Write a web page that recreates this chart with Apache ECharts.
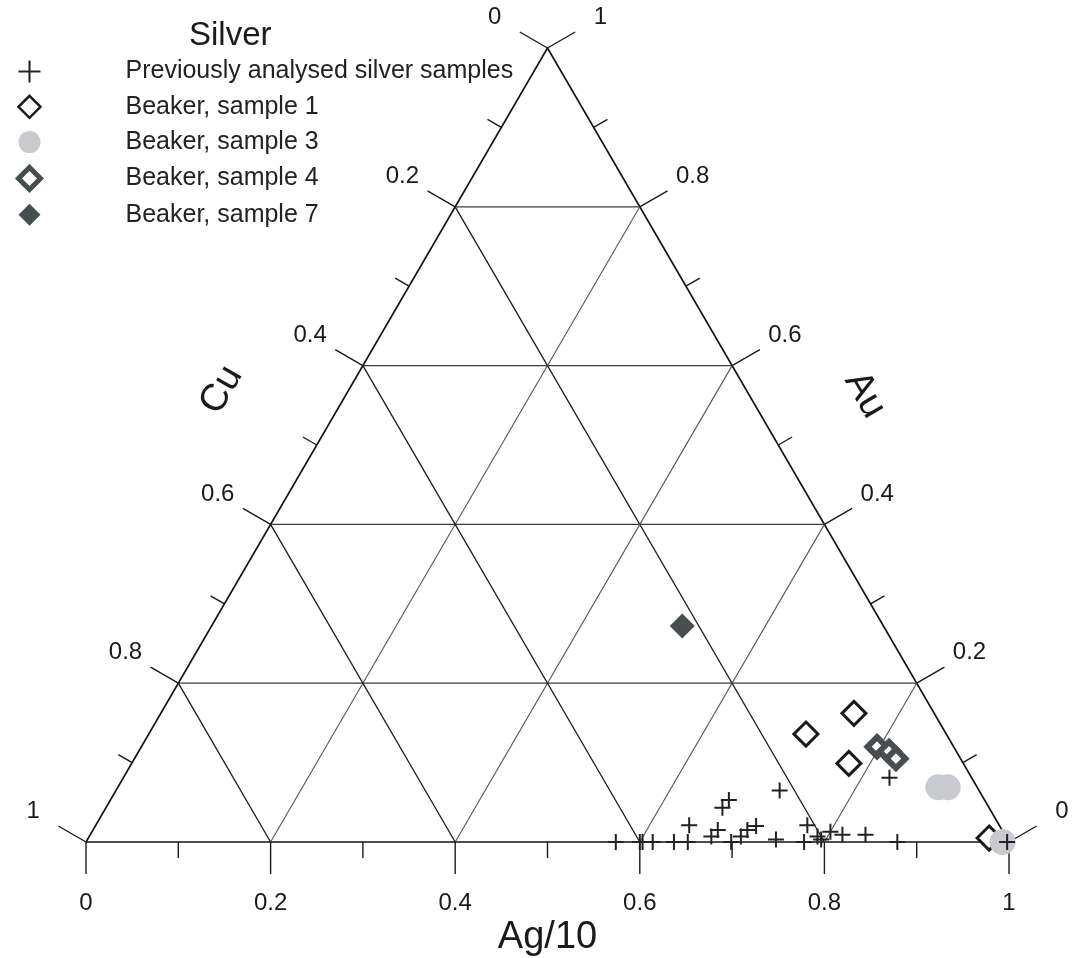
<!DOCTYPE html>
<html>
<head>
<meta charset="utf-8">
<script src="https://cdn.jsdelivr.net/npm/echarts@6/dist/echarts.min.js"></script>
<style>html,body{margin:0;padding:0;background:#fff}#c{width:1072px;height:958px}</style>
</head>
<body>
<div id="c"></div>
<script>
// ---- data (ternary fractions: Ag/10, Au; Cu = 1 - Ag - Au) ----
const prevAg = [0.574,0.600,0.603,0.614,0.637,0.652,0.643,0.674,0.677,0.668,0.670,0.699,0.706,0.709,0.716,0.746,0.719,0.778,0.771,0.789,0.795,0.800,0.815,0.840,0.879,0.830,0.998];
const prevAu = [0,0,0,0,0,0,0.021,0.007,0.015,0.043,0.053,0,0.007,0.015,0.020,0.003,0.065,0,0.021,0.007,0.003,0.013,0.009,0.009,0,0.081,0];
const s1Ag = [0.751,0.712,0.777,0.976];
const s1Au = [0.162,0.136,0.099,0.005];
const s3Ag = [0.889,0.899,0.993];
const s3Au = [0.069,0.069,0.0];
const s4Ag = [0.797,0.813,0.825];
const s4Au = [0.120,0.114,0.105];
const s7Ag = [0.510];
const s7Au = [0.272];
const tickVals = [0,0.1,0.2,0.3,0.4,0.5,0.6,0.7,0.8,0.9,1];
const gridVals = [0.2,0.4,0.6,0.8];
const seriesNames = ['Previously analysed silver samples','Beaker, sample 1','Beaker, sample 3','Beaker, sample 4','Beaker, sample 7'];

const FONT = '"Liberation Sans", Arial, Helvetica, sans-serif';
const toXY = (ag, au) => [ag + au / 2, au];
const pts = (ag, au) => ag.map((a, i) => toXY(a, au[i]));
const PLUS = 'path://M7,0H9V7H16V9H9V16H7V9H0V7H7Z';
const PLUS_THIN = 'path://M7.25,0H8.75V7.25H16V8.75H8.75V16H7.25V8.75H0V7.25H7.25Z';

// frame + grid lines: [x1,y1,x2,y2,kind]
const frameData = [];
const tri = [toXY(0,0), toXY(1,0), toXY(0,1), toXY(0,0)];
for (let i = 0; i < 3; i++) frameData.push([...tri[i], ...tri[i+1], 0]);
gridVals.forEach(v => {
  frameData.push([...toXY(0, v), ...toXY(1 - v, v), 1]);      // Au = v
  frameData.push([...toXY(v, 0), ...toXY(v, 1 - v), 2]);      // Ag = v
  frameData.push([...toXY(1 - v, 0), ...toXY(0, 1 - v), 3]);  // Cu = v
});
const lineStyles = [
  {stroke:'#111', lineWidth:1.6},
  {stroke:'#3a3a3a', lineWidth:1.2},
  {stroke:'#555', lineWidth:1.1},
  {stroke:'#1a1a1a', lineWidth:1.3}
];

// ticks: [x,y,side,value]
const tickData = [];
tickVals.forEach(v => {
  tickData.push([...toXY(v, 0), 0, v]);        // bottom: Ag
  tickData.push([...toXY(0, 1 - v), 1, v]);    // left: Cu
  tickData.push([...toXY(1 - v, v), 2, v]);    // right: Au
});
const dirs = [[0,1],[-0.866,-0.5],[0.866,-0.5]];

// axis titles: [x,y,kind]
const titleData = [[...toXY(0.5,0),0],[...toXY(0,0.5),1],[...toXY(0.5,0.5),2]];
const titleText = ['Ag/10','Cu','Au'];

const chart = echarts.init(document.getElementById('c'), null, {renderer:'canvas'});
chart.setOption({
  animation: false,
  backgroundColor: '#fff',
  title: {
    text: 'Silver', left: 184, top: 14,
    textStyle: {fontFamily: FONT, fontSize: 33, fontWeight: 'normal', color: '#1a1a1a'}
  },
  legend: {
    orient: 'vertical', left: 11, top: 54,
    itemWidth: 22, itemHeight: 22, itemGap: 10.3,
    selectedMode: false,
    textStyle: {fontFamily: FONT, fontSize: 25, color: '#222', padding: [0,0,0,80]},
    data: [
      {name: seriesNames[0], icon: PLUS_THIN, itemStyle: {color:'#222'}},
      {name: seriesNames[1], icon: 'diamond', itemStyle: {color:'#fff', borderColor:'#1a1a1a', borderWidth:2.5}},
      {name: seriesNames[2], icon: 'circle', itemStyle: {color:'#c8cad0'}},
      {name: seriesNames[3], icon: 'diamond', itemStyle: {color:'#fff', borderColor:'#464e4f', borderWidth:5}},
      {name: seriesNames[4], icon: 'diamond', itemStyle: {color:'#464e4f'}}
    ]
  },
  grid: {left: 86, right: 63, top: 48, bottom: 116},
  xAxis: {type:'value', min:0, max:1, show:false},
  yAxis: {type:'value', min:0, max:1, show:false},
  series: [
    {
      type: 'custom', name: 'frame', silent: true, clip: false, z: 1,
      data: frameData,
      renderItem: (params, api) => {
        const p1 = api.coord([api.value(0), api.value(1)]);
        const p2 = api.coord([api.value(2), api.value(3)]);
        return {type:'line', shape:{x1:p1[0], y1:p1[1], x2:p2[0], y2:p2[1]}, style: lineStyles[api.value(4)]};
      }
    },
    {
      type: 'custom', name: 'ticks', silent: true, clip: false, z: 1,
      data: tickData,
      renderItem: (params, api) => {
        const p = api.coord([api.value(0), api.value(1)]);
        const side = api.value(2), v = api.value(3);
        const d = dirs[side];
        const major = Math.round(v * 10) % 2 === 0;
        const len = major ? 32 : 16;
        const children = [{
          type:'line',
          shape:{x1:p[0], y1:p[1], x2:p[0] + d[0]*len, y2:p[1] + d[1]*len},
          style:{stroke:'#1a1a1a', lineWidth:1.4}
        }];
        if (major) {
          const txt = v === 0 ? '0' : (v === 1 ? '1' : v.toFixed(1));
          children.push({
            type:'text',
            style:{text: txt, x: p[0] + d[0]*61, y: p[1] + d[1]*61, fill:'#1a1a1a',
                   font: '24px ' + FONT, align:'center', verticalAlign:'middle'}
          });
        }
        return {type:'group', children};
      }
    },
    {
      type: 'custom', name: 'axisTitles', silent: true, clip: false, z: 1,
      data: titleData,
      renderItem: (params, api) => {
        const p = api.coord([api.value(0), api.value(1)]);
        const k = api.value(2);
        const off = [[0, 96], [-0.866*110, -0.5*110], [0.866*100, -0.5*100]][k];
        const rot = [0, Math.PI/3, -Math.PI/3][k];
        return {
          type:'text', x: p[0] + off[0], y: p[1] + off[1], rotation: rot,
          style:{text: titleText[k], x:0, y:0, fill:'#1a1a1a', font: '38px ' + FONT,
                 align:'center', verticalAlign:'middle'}
        };
      }
    },
    {
      type:'scatter', name: seriesNames[1], data: pts(s1Ag, s1Au), z: 3,
      symbol:'diamond', symbolSize: 24,
      itemStyle:{color:'#fff', borderColor:'#1a1a1a', borderWidth:3, opacity:1}
    },
    {
      type:'scatter', name: seriesNames[3], data: pts(s4Ag, s4Au), z: 3,
      symbol:'diamond', symbolSize: 19,
      itemStyle:{color:'#fff', borderColor:'#464e4f', borderWidth:6, opacity:1}
    },
    {
      type:'scatter', name: seriesNames[4], data: pts(s7Ag, s7Au), z: 3,
      symbol:'diamond', symbolSize: 25,
      itemStyle:{color:'#464e4f', opacity:1}
    },
    {
      type:'scatter', name: seriesNames[2], data: pts(s3Ag, s3Au), z: 4,
      symbol:'circle', symbolSize: 26,
      itemStyle:{color:'#c8cad0', opacity:1}
    },
    {
      type:'scatter', name: seriesNames[0], data: pts(prevAg, prevAu), z: 5,
      symbol: PLUS, symbolSize: 16,
      itemStyle:{color:'#222', opacity:1}
    }
  ]
});
</script>
</body>
</html>
